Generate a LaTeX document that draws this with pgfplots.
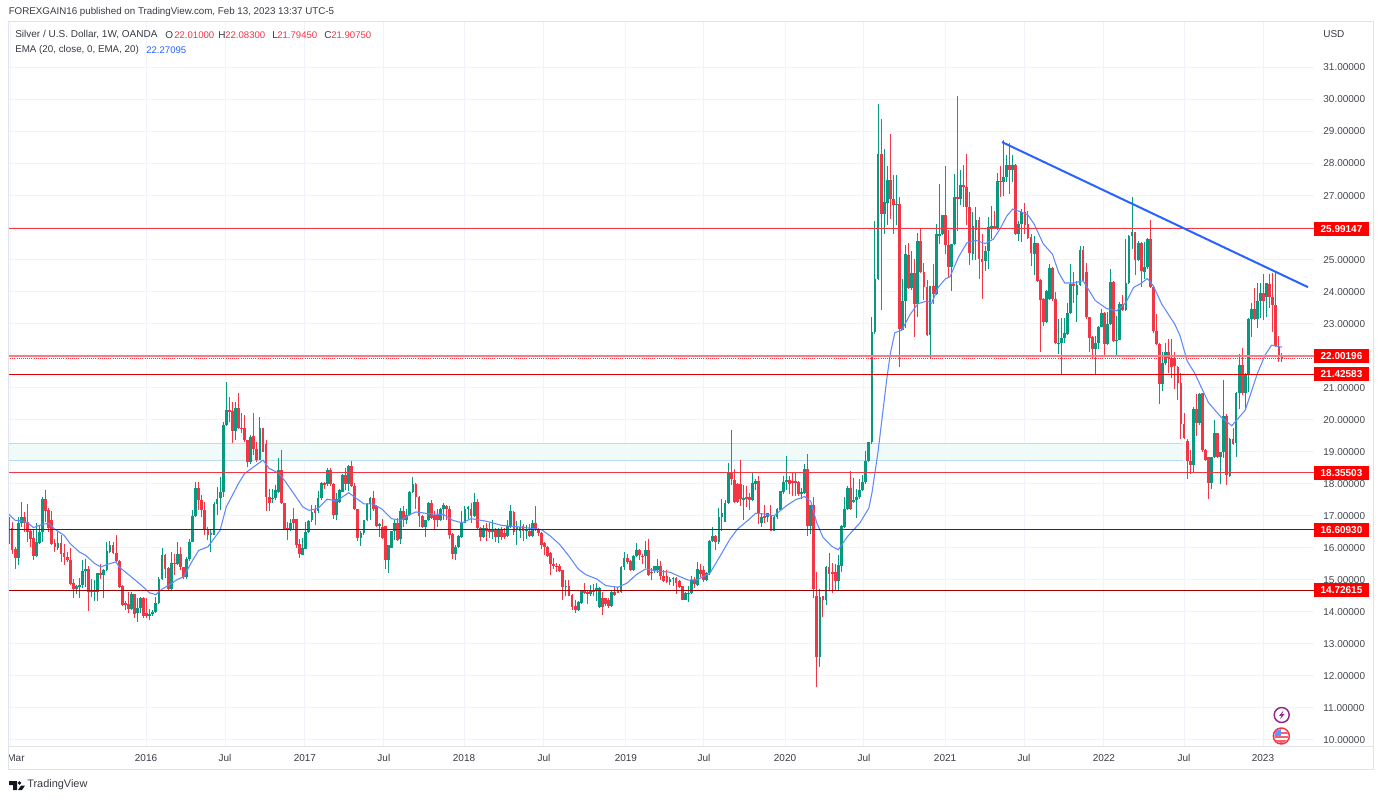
\documentclass[border=0pt]{standalone}
\usepackage{pgfplots}
\usepackage{pgfplotstable}
\usepackage{fontspec}
\setmainfont{Liberation Sans}
\pgfplotsset{compat=1.18}

\definecolor{upc}{HTML}{089981}
\definecolor{downc}{HTML}{F23645}
\definecolor{tvblue}{HTML}{2962FF}
\definecolor{gridc}{HTML}{F0F3FA}
\definecolor{framec}{HTML}{E0E3EB}
\definecolor{txt}{HTML}{131722}
\definecolor{lvl}{HTML}{E00000}
\definecolor{zonef}{HTML}{EFFAF9}
\definecolor{zonel}{HTML}{B8DCF2}

% week, open, high, low, close
\pgfplotstableread{
i o h l c
0 16.24 16.97 16.13 16.65
1 16.62 16.81 15.82 15.93
2 15.96 16.03 15.35 15.67
3 15.67 16.97 15.46 16.79
4 16.79 17.44 16.65 16.97
5 16.97 17.12 16.50 16.79
6 16.81 17.36 16.18 16.50
7 16.52 16.58 16.03 16.29
8 16.31 16.58 15.63 15.74
9 15.74 16.76 15.72 16.18
10 16.16 16.71 16.13 16.50
11 16.48 17.59 16.18 17.52
12 17.52 17.82 16.81 17.14
13 17.18 17.25 16.50 16.62
14 16.86 17.14 16.08 16.13
15 16.16 16.29 15.87 16.03
16 15.98 16.50 15.93 16.16
17 16.16 16.39 15.56 15.82
18 15.85 16.13 15.46 15.72
19 15.72 15.87 15.55 15.61
20 15.61 15.98 14.83 14.88
21 14.91 15.04 14.42 14.70
22 14.70 14.83 14.57 14.81
23 14.78 15.06 14.42 14.83
24 14.83 15.63 14.73 15.28
25 15.28 15.66 14.78 15.35
26 15.35 15.44 14.02 14.62
27 14.67 15.04 14.47 14.62
28 14.62 15.00 14.33 14.67
29 14.62 15.20 14.33 15.20
30 15.20 15.51 15.04 15.15
31 15.15 15.35 14.44 15.30
32 15.30 16.19 15.27 15.90
33 15.87 16.22 15.85 16.08
34 16.08 16.19 15.82 15.85
35 15.85 16.39 15.56 15.60
36 15.60 15.61 14.73 14.78
37 14.81 14.83 14.19 14.21
38 14.29 14.33 14.05 14.21
39 14.23 14.62 13.95 14.08
40 14.10 14.62 14.05 14.57
41 14.57 14.57 13.81 13.92
42 13.95 14.42 13.69 14.12
43 14.12 14.47 13.95 14.42
44 14.42 14.47 13.81 13.87
45 13.95 14.42 13.81 13.87
46 13.87 14.10 13.75 13.92
47 13.92 14.05 13.87 14.00
48 14.00 14.47 13.95 14.29
49 14.29 15.09 14.26 15.04
50 15.04 16.00 14.99 15.79
51 15.79 15.82 15.06 15.35
52 15.37 15.40 14.68 14.70
53 14.72 15.87 14.68 15.54
54 15.54 15.82 15.14 15.51
55 15.51 16.19 15.46 15.82
56 15.82 16.03 15.30 15.40
57 15.40 15.40 15.04 15.09
58 15.09 15.70 15.04 15.66
59 15.66 16.29 15.60 16.19
60 16.19 17.18 16.19 17.00
61 17.00 18.04 16.97 17.87
62 17.87 18.06 17.18 17.49
63 17.49 17.64 16.97 17.18
64 17.18 17.44 16.39 16.60
65 16.60 16.65 16.24 16.39
66 16.39 16.58 15.87 16.45
67 16.41 17.42 16.39 17.38
68 17.38 17.90 17.04 17.54
69 17.54 18.22 17.18 17.75
70 17.75 19.94 17.59 19.83
71 19.83 21.19 19.81 20.30
72 20.30 20.72 19.94 20.27
73 20.28 20.56 19.26 19.65
74 19.65 20.56 19.36 20.37
75 20.37 20.82 19.71 19.73
76 19.75 20.20 19.57 19.73
77 19.73 20.14 19.31 19.36
78 19.36 19.36 18.53 18.69
79 18.69 19.52 18.63 19.47
80 19.50 20.20 18.89 19.08
81 19.08 19.31 18.69 18.74
82 18.74 20.09 18.74 19.73
83 19.73 19.75 18.98 19.00
84 19.23 19.36 17.14 17.59
85 17.59 17.85 17.14 17.41
86 17.52 17.85 17.41 17.56
87 17.56 17.96 17.49 17.80
88 17.75 18.79 17.70 18.43
89 18.43 19.05 17.38 17.41
90 17.41 17.41 16.55 16.60
91 16.62 16.81 16.24 16.55
92 16.55 16.91 16.52 16.79
93 16.90 17.25 16.55 16.76
94 16.90 16.91 15.98 16.10
95 16.13 16.29 15.67 15.82
96 15.77 16.31 15.77 15.98
97 15.96 16.81 15.96 16.50
98 16.50 16.86 16.45 16.83
99 16.86 17.35 16.81 17.12
100 17.17 17.35 16.71 17.10
101 17.14 17.77 17.10 17.54
102 17.54 18.04 17.49 18.01
103 18.01 18.06 17.85 17.98
104 17.98 18.48 17.94 18.43
105 18.43 18.50 17.94 17.98
106 17.98 18.01 16.91 17.04
107 17.04 17.70 16.86 17.54
108 17.44 17.83 17.41 17.80
109 17.74 18.32 17.74 18.26
110 18.26 18.50 17.82 17.98
111 17.98 18.60 17.77 18.55
112 18.55 18.71 17.90 17.92
113 17.92 18.03 17.17 17.20
114 17.20 17.22 16.20 16.31
115 16.31 16.52 16.07 16.47
116 16.47 16.88 16.41 16.86
117 16.86 17.40 16.83 17.38
118 17.38 17.59 16.86 17.56
119 17.56 17.77 17.14 17.20
120 17.30 17.35 16.65 16.67
121 16.67 16.76 16.34 16.73
122 16.65 16.90 16.28 16.31
123 16.67 16.67 15.34 15.61
124 15.61 16.10 15.22 16.10
125 16.00 16.52 16.00 16.52
126 16.52 16.88 16.24 16.78
127 16.76 16.93 16.20 16.24
128 16.26 17.25 16.13 17.14
129 17.14 17.32 16.65 16.86
130 16.86 17.20 16.73 17.04
131 17.04 17.77 16.99 17.74
132 17.74 18.22 17.70 17.98
133 17.98 18.03 17.20 17.59
134 17.59 17.61 16.65 16.99
135 16.99 17.04 16.62 16.65
136 16.65 16.88 16.34 16.86
137 16.86 17.42 16.83 17.40
138 17.40 17.49 16.90 16.93
139 17.04 17.14 16.59 16.86
140 17.04 17.22 16.65 16.88
141 16.86 17.25 16.83 17.22
142 17.20 17.40 16.86 17.35
143 17.32 17.35 16.88 17.20
144 17.20 17.30 16.28 16.41
145 16.44 16.47 15.65 15.82
146 15.82 16.10 15.63 16.03
147 16.03 16.41 16.00 16.38
148 16.34 17.14 16.31 16.78
149 16.78 17.30 16.76 17.22
150 17.22 17.32 16.90 17.28
151 17.20 17.40 16.78 16.99
152 16.99 17.72 16.97 17.42
153 17.42 17.51 16.59 16.62
154 16.62 16.65 16.20 16.34
155 16.34 16.70 16.31 16.62
156 16.62 16.78 16.20 16.52
157 16.57 16.76 16.31 16.49
158 16.49 16.86 16.26 16.57
159 16.59 16.62 16.17 16.34
160 16.34 16.62 16.15 16.59
161 16.59 16.65 16.24 16.34
162 16.47 16.62 16.26 16.34
163 16.36 16.88 16.34 16.67
164 16.65 17.35 16.62 17.14
165 17.12 17.14 16.41 16.49
166 16.57 16.83 16.10 16.65
167 16.52 16.86 16.31 16.65
168 16.69 16.73 16.20 16.52
169 16.52 16.70 16.28 16.57
170 16.52 16.73 16.34 16.38
171 16.38 16.88 16.34 16.78
172 16.78 17.32 16.52 16.59
173 16.59 16.62 16.36 16.47
174 16.47 16.49 15.97 16.10
175 16.15 16.17 15.79 16.03
176 16.03 16.05 15.72 15.76
177 15.84 15.86 15.16 15.48
178 15.51 15.68 15.34 15.43
179 15.44 15.53 15.24 15.40
180 15.42 15.51 15.24 15.27
181 15.30 15.32 14.36 14.78
182 14.78 14.99 14.49 14.82
183 14.82 14.99 14.49 14.51
184 14.54 14.57 14.05 14.15
185 14.17 14.36 13.97 14.05
186 14.05 14.33 14.03 14.30
187 14.28 14.67 14.23 14.64
188 14.64 14.90 14.57 14.59
189 14.61 14.69 14.23 14.57
190 14.57 14.85 14.49 14.69
191 14.69 14.88 14.49 14.64
192 14.67 14.90 14.33 14.75
193 14.15 14.78 14.12 14.75
194 14.43 14.61 13.91 14.15
195 14.43 14.43 14.17 14.23
196 14.38 14.43 14.12 14.17
197 14.17 14.64 14.15 14.61
198 14.61 14.82 14.51 14.54
199 14.64 14.78 14.59 14.61
200 14.61 15.42 14.59 15.40
201 15.40 15.86 15.32 15.68
202 15.68 15.82 15.48 15.55
203 15.58 15.61 15.27 15.30
204 15.30 15.79 15.27 15.76
205 15.76 16.15 15.72 15.92
206 15.92 15.97 15.61 15.79
207 15.76 15.82 15.48 15.72
208 15.74 16.20 15.37 15.92
209 15.92 16.26 15.13 15.16
210 15.26 15.37 14.99 15.20
211 15.27 15.42 15.22 15.42
212 15.30 15.65 15.22 15.42
213 15.42 15.60 14.99 15.13
214 15.13 15.32 14.92 14.96
215 15.11 15.32 14.90 14.92
216 14.92 15.09 14.85 15.03
217 15.03 15.09 14.82 15.06
218 15.06 15.08 14.57 14.90
219 14.96 14.99 14.75 14.78
220 14.80 14.82 14.36 14.38
221 14.38 14.61 14.36 14.59
222 14.57 14.80 14.30 14.59
223 14.59 15.13 14.57 15.01
224 15.01 15.09 14.75 14.88
225 14.85 15.55 14.82 15.34
226 15.31 15.50 15.10 15.19
227 15.31 15.44 14.92 14.98
228 14.98 15.26 14.95 15.21
229 15.21 16.23 15.16 16.20
230 16.20 16.65 16.17 16.38
231 16.38 16.41 15.94 16.17
232 16.17 17.24 16.13 16.96
233 16.96 17.52 16.54 17.10
234 16.82 17.50 16.82 17.40
235 17.40 18.65 17.38 18.35
236 18.35 19.67 17.97 18.15
237 18.13 18.46 17.40 17.42
238 18.00 18.02 17.40 17.42
239 18.00 18.73 17.31 17.52
240 17.52 17.97 16.88 17.55
241 17.58 17.94 17.27 17.52
242 17.58 17.71 17.17 17.50
243 17.50 18.35 17.45 18.02
244 18.00 18.15 17.81 18.09
245 18.09 18.23 16.75 17.06
246 16.77 17.06 16.65 16.96
247 16.98 17.34 16.77 16.96
248 16.96 17.10 16.82 17.08
249 16.98 17.34 16.54 16.54
250 16.54 16.98 16.54 16.96
251 16.96 17.24 16.90 17.21
252 17.19 17.76 17.17 17.76
253 17.73 18.25 17.69 18.04
254 18.04 18.88 17.81 18.13
255 18.13 18.23 17.69 18.00
256 18.10 18.33 17.63 18.02
257 18.09 18.35 17.63 18.02
258 18.07 18.10 17.63 17.69
259 17.69 17.86 17.52 17.73
260 17.71 18.63 17.69 18.46
261 18.46 18.94 16.38 16.67
262 16.67 17.34 16.44 17.34
263 17.34 17.58 14.43 14.71
264 14.48 15.23 11.65 12.60
265 12.60 14.71 12.29 14.46
266 14.48 14.48 13.83 14.38
267 14.38 15.44 14.22 15.40
268 15.40 15.83 14.69 15.19
269 15.23 15.52 14.58 15.19
270 15.23 15.50 14.64 14.95
271 14.95 15.78 14.69 15.47
272 15.44 16.72 15.26 16.69
273 16.65 17.60 16.61 17.21
274 17.21 17.92 17.17 17.86
275 17.86 18.39 17.19 17.21
276 17.45 18.18 17.40 17.50
277 17.50 17.83 16.93 17.58
278 17.58 18.15 17.52 17.81
279 17.81 18.28 17.76 18.04
280 18.04 19.01 18.00 18.70
281 18.70 19.32 18.67 19.29
282 19.29 23.21 19.25 22.74
283 22.74 26.20 22.69 24.40
284 24.40 29.85 24.35 28.31
285 28.29 29.40 23.42 26.42
286 26.42 28.44 25.81 26.80
287 26.77 27.92 26.07 27.50
288 27.50 28.92 26.28 26.90
289 26.90 27.63 25.81 26.70
290 26.70 27.63 26.07 26.75
291 26.75 26.94 21.64 22.84
292 22.81 24.40 22.79 23.71
293 23.71 25.45 22.87 25.17
294 25.13 25.52 24.09 24.12
295 24.12 25.27 24.06 24.58
296 24.58 25.03 22.58 23.60
297 23.60 25.83 23.21 25.58
298 25.58 26.00 24.58 24.61
299 24.61 24.89 23.73 24.14
300 24.14 24.37 22.63 22.66
301 22.66 24.17 21.90 24.17
302 24.17 24.85 23.62 23.94
303 23.92 26.12 23.88 25.79
304 25.76 27.37 25.48 25.79
305 25.79 26.38 25.76 26.38
306 26.38 27.92 25.19 25.45
307 25.45 25.91 24.46 24.77
308 24.77 25.50 24.02 25.48
309 25.48 27.66 25.45 26.96
310 26.96 30.11 25.89 26.90
311 26.90 27.79 26.70 27.32
312 27.32 27.95 26.64 27.27
313 27.27 28.31 26.07 26.64
314 26.64 27.11 24.82 25.21
315 25.19 26.49 24.98 26.04
316 25.92 26.64 25.00 26.25
317 26.25 26.33 24.40 25.03
318 25.03 25.81 23.78 24.92
319 24.97 25.43 24.65 25.28
320 25.28 26.32 24.70 26.01
321 26.01 26.66 25.64 26.04
322 26.04 26.53 25.95 25.95
323 25.95 27.71 25.93 27.47
324 27.47 27.91 26.94 27.43
325 27.43 28.75 27.00 27.57
326 27.57 28.27 27.41 27.95
327 27.95 28.64 27.05 27.81
328 27.81 28.27 27.41 27.95
329 27.95 27.99 25.77 25.80
330 25.80 26.22 25.59 26.11
331 26.11 26.58 25.56 26.48
332 26.48 26.77 25.80 26.08
333 26.11 26.53 25.64 25.66
334 25.70 25.80 24.79 25.20
335 25.17 25.73 24.52 25.52
336 25.52 25.52 24.29 24.34
337 24.37 24.39 22.12 23.75
338 23.77 23.79 22.93 23.06
339 23.04 24.06 23.02 24.03
340 23.77 24.86 23.75 24.73
341 24.73 24.76 23.72 23.77
342 23.77 23.98 22.36 22.39
343 22.39 23.16 22.05 22.41
344 22.41 23.19 21.42 22.54
345 22.54 23.19 22.41 22.70
346 22.67 23.66 22.64 23.33
347 23.33 24.86 23.30 24.24
348 24.24 24.62 23.66 24.18
349 23.89 24.34 23.04 24.20
350 24.20 25.41 24.18 25.31
351 25.31 25.41 24.31 24.34
352 24.62 24.89 23.14 23.20
353 23.20 23.20 22.12 22.54
354 22.57 22.62 21.89 22.20
355 22.20 22.62 21.42 22.41
356 22.41 22.93 22.20 22.91
357 22.91 23.45 22.88 23.33
358 23.33 23.35 22.00 22.36
359 22.36 23.37 22.33 22.98
360 22.98 24.72 22.95 24.30
361 24.30 24.34 22.43 22.46
362 22.46 23.24 22.01 22.49
363 22.49 23.68 22.49 23.61
364 23.61 23.89 23.40 23.43
365 23.43 25.64 23.40 24.28
366 24.28 25.76 24.23 25.74
367 25.74 26.97 25.32 25.87
368 25.87 25.87 24.51 25.00
369 25.00 25.59 24.96 25.53
370 25.53 25.55 24.13 24.65
371 24.62 25.55 24.41 24.78
372 24.76 25.66 24.72 25.64
373 25.64 26.24 24.10 24.16
374 24.16 24.18 22.70 22.77
375 22.77 23.29 22.33 22.36
376 22.36 22.39 20.48 21.11
377 21.11 22.10 20.90 21.76
378 21.76 22.41 21.70 22.10
379 22.10 22.51 21.45 21.94
380 21.94 22.51 21.31 21.66
381 21.90 22.10 20.95 21.68
382 21.66 21.68 20.62 21.14
383 21.14 21.45 19.41 19.86
384 19.86 20.20 19.39 19.44
385 19.34 19.41 18.16 18.71
386 18.71 19.07 18.29 18.60
387 18.58 20.41 18.33 20.35
388 20.35 20.79 19.49 19.89
389 19.89 20.85 19.85 20.80
390 20.82 20.85 19.00 19.05
391 19.05 19.10 18.70 18.74
392 18.84 18.85 17.54 18.03
393 18.03 18.85 17.85 18.84
394 18.84 19.99 18.80 19.57
395 19.57 19.60 18.80 18.84
396 18.84 19.00 17.99 19.00
397 19.00 21.24 18.79 20.11
398 20.11 20.18 17.96 18.27
399 18.24 19.42 18.22 19.39
400 19.39 19.73 19.20 19.24
401 19.26 20.87 18.84 20.84
402 20.82 22.05 20.35 21.71
403 21.71 22.23 20.77 20.82
404 20.82 21.45 20.30 21.43
405 21.43 23.17 20.88 23.14
406 23.14 23.66 22.57 23.45
407 23.45 24.10 23.10 23.14
408 23.14 24.28 22.85 23.72
409 23.72 24.26 23.17 23.97
410 23.97 24.55 23.11 23.72
411 23.84 24.28 23.22 24.26
412 24.24 24.55 23.50 23.82
413 23.82 24.57 22.75 23.58
414 23.58 24.60 22.28 22.30
415 22.30 22.61 21.81 21.99
416 22.01 22.083 21.7945 21.9075
}\candles

% EMA 20
\pgfplotstableread{
i v
-0.3 17.07
2 16.86
4 16.84
6 16.79
8 16.63
11 16.74
13 16.76
15 16.58
18 16.39
20 16.13
23 15.87
25 15.77
28 15.51
30 15.40
32 15.48
35 15.56
36 15.40
40 15.09
43 14.85
46 14.59
48 14.54
50 14.71
53 14.88
55 15.01
57 15.09
60 15.61
62 15.92
65 16.03
69 16.55
71 17.28
73 17.64
75 18.01
77 18.32
80 18.53
81 18.60
83 18.74
85 18.48
88 18.34
90 18.11
93 17.70
96 17.28
98 17.17
101 17.23
104 17.52
107 17.46
111 17.72
114 17.51
116 17.37
119 17.37
122 17.20
125 16.91
128 16.86
131 17.04
133 17.12
137.5 17.06
142 17.04
145 16.86
148 16.78
151 16.91
156 16.83
161 16.70
167 16.65
174 16.57
177 16.36
180 16.10
183 15.74
186 15.34
188.5 15.16
192 15.03
195 14.82
199 14.77
202 14.90
205 15.16
208 15.34
212 15.27
216 15.24
219 15.11
222 14.99
225 15.01
229 15.20
232 15.68
235.6 16.27
238 16.58
242 16.90
244 17.08
246.5 17.06
250 17.00
254 17.31
257 17.50
260 17.60
262 17.45
264 16.77
266 16.33
269 16.04
271 15.94
274 16.35
278 16.77
281 17.24
282 17.71
284 19.00
286.8 21.23
288 22.06
289.5 22.72
291.7 22.79
294.5 23.29
297 23.62
300 23.71
301.5 23.64
303.7 24.14
306 24.40
307.5 24.46
310.3 25.08
313 25.52
316 25.60
319 25.50
321.7 25.64
324 25.98
326 26.35
328 26.58
331 26.48
333 26.39
335 26.11
338 25.49
341 25.17
343 24.60
345 24.27
348 24.27
351 24.34
355 23.72
358.7 23.47
362 23.40
365 23.66
367.5 24.13
370 24.26
372 24.41
374 24.18
376.7 23.61
381 22.98
382.7 22.62
385 21.84
387.5 21.45
392 20.53
396 20.09
399.6 19.81
404 20.30
408 21.45
410.5 22.02
412.6 22.33
415 22.28
416 22.27
}\emaline

\newcommand{\candlewick}[2]{%
  \addplot[draw=none,forget plot,error bars/.cd,y dir=both,y explicit,error mark=none,
    error bar style={#1,line width=.75pt}]
    table[x=i,y expr={\thisrow{c}#2\thisrow{o} ? (\thisrow{h}+\thisrow{l})/2 : nan},
      y error expr={(\thisrow{h}-\thisrow{l})/2}] {\candles};}
\newcommand{\candlebody}[2]{%
  \addplot[draw=none,forget plot,error bars/.cd,y dir=both,y explicit,error mark=none,
    error bar style={#1,line width=2.1pt}]
    table[x=i,y expr={\thisrow{c}#2\thisrow{o} ? (\thisrow{o}+\thisrow{c})/2 : nan},
      y error expr={abs(\thisrow{o}-\thisrow{c})/2}] {\candles};}

\newcommand{\fs}{\fontsize{7.5}{9}\selectfont}

\begin{document}
\begin{tikzpicture}
\path[use as bounding box] (0,0) rectangle (1036.5pt,600pt);
\begin{axis}[
  at={(6pt,39.75pt)}, anchor=south west,
  scale only axis, width=979.5pt, height=543.75pt,
  xmin=-0.33, xmax=426.47, ymin=9.78, ymax=32.42,
  clip=false,
  axis line style={draw=none},
  tick style={draw=none},
  grid=major, grid style={gridc,line width=.75pt},
  ytick={10,...,31},
  yticklabel pos=right,
  xticklabel pos=bottom,
  yticklabel style={/pgf/number format/fixed,/pgf/number format/fixed zerofill,/pgf/number format/precision=5,/pgf/number format/assume math mode=true,
    font=\fs,text=txt!80,anchor=west,xshift=3.5pt},
  xtick={0.65,44.77,70.6,96.7,122.5,148.7,174.8,201.6,227.1,253.6,279.4,305.9,331.7,357.8,384,409.8},
  xticklabels={\hspace{7.5pt}Mar,2016,Jul,2017,Jul,2018,Jul,2019,Jul,2020,Jul,2021,Jul,2022,Jul,2023},
  xticklabel style={font=\fs,text=txt!85,inner sep=0pt,anchor=center,yshift=-8.2pt},
]
% support / resistance zone
\addplot[fill=zonef,draw=none,forget plot] coordinates {(-0.33,18.74)(383.7,18.74)(383.7,19.27)(-0.33,19.27)} --cycle;
\addplot[color=zonel,line width=.75pt,forget plot] coordinates {(-0.33,19.27)(383.7,19.27)};
\addplot[color=zonel,line width=.75pt,forget plot] coordinates {(-0.33,18.74)(383.7,18.74)};
% candles
\candlewick{upc}{>=}
\candlewick{downc}{<}
\candlebody{upc}{>=}
\candlebody{downc}{<}
% EMA
\addplot[color=tvblue!75,line width=.8pt,forget plot] table[x=i,y=v] {\emaline};
% levels, at the height where the picture draws them
\addplot[color=downc,line width=.75pt,forget plot] coordinates {(-0.33,25.97)(426.47,25.97)};
\addplot[color=downc!65,line width=1.4pt,forget plot] coordinates {(-0.33,22.00196)(426.47,22.00196)};
\addplot[color=downc,line width=.6pt,densely dotted,forget plot] coordinates {(-0.33,21.9075)(426.47,21.9075)};
\addplot[color=lvl,line width=.8pt,forget plot] coordinates {(-0.33,21.42583)(426.47,21.42583)};
\addplot[color=downc,line width=.8pt,forget plot] coordinates {(-0.33,18.34)(426.47,18.34)};
\addplot[color=lvl!70!black,line width=.65pt,forget plot] coordinates {(-0.33,16.56)(426.47,16.56)};
\addplot[color=lvl!70!black,line width=.65pt,forget plot] coordinates {(-0.33,14.68)(426.47,14.68)};
% trend line
\addplot[color=tvblue,line width=1.5pt,forget plot] coordinates {(324.5,28.67)(424.5,24.14)};
\end{axis}

\begin{scope}[x=.75pt,y=-.75pt,yshift=600pt,every node/.style={font=\fs,inner sep=0pt}]
\draw[framec,line width=.75pt] (8,22) rectangle (1373,770);
\draw[framec,line width=.75pt] (8,747) -- (1373,747);
\node[anchor=west,text=txt!85,font=\fontsize{7.33}{9}\selectfont] at (8.5,12) {FOREXGAIN16 published on TradingView.com, Feb 13, 2023 13:37 UTC-5};
\node[anchor=west,text=txt!85] at (15,35) {Silver / U.S. Dollar, 1W, OANDA};
\node[anchor=west,text=txt!85] at (165,35) {O};
\node[anchor=west,text=downc,font=\fontsize{7.2}{9}\selectfont] at (174,35) {22.01000};
\node[anchor=west,text=txt!85] at (218,35) {H};
\node[anchor=west,text=downc,font=\fontsize{7.2}{9}\selectfont] at (225,35) {22.08300};
\node[anchor=west,text=txt!85] at (272,35) {L};
\node[anchor=west,text=downc,font=\fontsize{7.2}{9}\selectfont] at (277,35) {21.79450};
\node[anchor=west,text=txt!85] at (324,35) {C};
\node[anchor=west,text=downc,font=\fontsize{7.2}{9}\selectfont] at (331,35) {21.90750};
\node[anchor=west,text=txt!85,font=\fontsize{7.35}{9}\selectfont] at (15,50) {EMA (20, close, 0, EMA, 20)};
\node[anchor=west,text=tvblue,font=\fontsize{7.2}{9}\selectfont] at (146,50) {22.27095};
\node[anchor=west,text=txt!85] at (1323,34) {USD};
% price labels
\foreach \yy/\lab in {229/25.99147,356/22.00196,374/21.42583,473/18.35503,530/16.60930,590/14.72615}{
  \fill[red] (1314,\yy-7) rectangle (1369,\yy+7);
  \node[text=white,anchor=center,font=\fs\bfseries] at (1341.5,\yy) {\lab};
}
% footer logo
\fill[txt] (9,781) -- (17,781) -- (17,790) -- (13,790) -- (13,785) -- (9,785) -- cycle;
\fill[txt] (19.5,783) circle[radius=1.8];
\fill[txt] (18,790) -- (21,785.5) -- (25,785.5) -- (22,790) -- cycle;
\node[anchor=west,text=txt!85,font=\fontsize{8.2}{10}\selectfont] at (27,785) {TradingView};
% icons
\draw[draw=violet!85,fill=white,line width=1.1pt] (1281.7,715) circle[radius=7.5];
\fill[violet!85] (1283.5,710.5) -- (1279,716) -- (1281.5,716) -- (1280,719.5) -- (1284.5,714) -- (1282,714) -- cycle;
\draw[draw=downc,fill=white,line width=1.1pt] (1281.3,736) circle[radius=8];
\begin{scope}
\clip (1281.3,736) circle[radius=7];
\fill[downc!80] (1274,736) rectangle (1289,738);
\fill[downc!80] (1274,740) rectangle (1289,743);
\fill[downc!80] (1281,732) rectangle (1289,734.5);
\fill[tvblue!70] (1274,729) rectangle (1281,736);
\end{scope}
\end{scope}
\end{tikzpicture}
\end{document}
